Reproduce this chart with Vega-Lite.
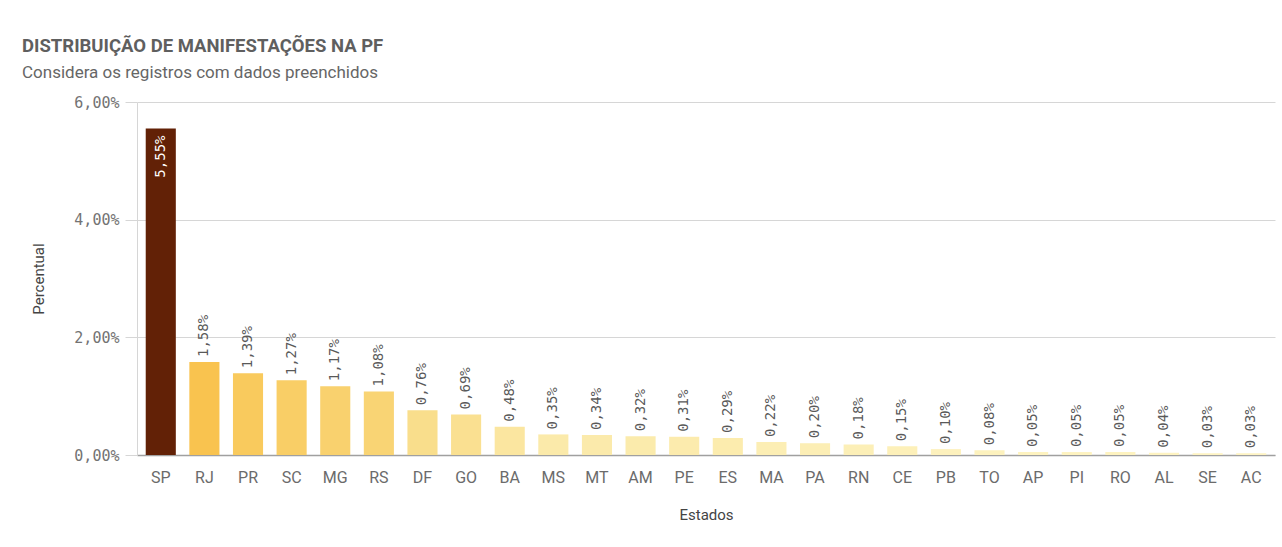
{
  "$schema": "https://vega.github.io/schema/vega-lite/v6.json",
  "autosize": {"type": "none"},
  "width": 1138,
  "height": 353,
  "padding": {"left": 137, "top": 102, "right": 7, "bottom": 92},
  "background": "white",
  "title": {
    "text": "DISTRIBUIÇÃO DE MANIFESTAÇÕES NA PF",
    "subtitle": "Considera os registros com dados preenchidos",
    "anchor": "start",
    "frame": "group",
    "dx": -115,
    "offset": 14,
    "font": "Roboto",
    "fontSize": 18.5,
    "fontWeight": "bold",
    "color": "#5f5f5f",
    "subtitleFont": "Roboto",
    "subtitleFontSize": 17,
    "subtitleColor": "#666666",
    "subtitlePadding": 10
  },
  "data": {
    "values": [
      {"Estado": "SP", "Percentual": 0.0555},
      {"Estado": "RJ", "Percentual": 0.0158},
      {"Estado": "PR", "Percentual": 0.0139},
      {"Estado": "SC", "Percentual": 0.0127},
      {"Estado": "MG", "Percentual": 0.0117},
      {"Estado": "RS", "Percentual": 0.0108},
      {"Estado": "DF", "Percentual": 0.0076},
      {"Estado": "GO", "Percentual": 0.0069},
      {"Estado": "BA", "Percentual": 0.0048},
      {"Estado": "MS", "Percentual": 0.0035},
      {"Estado": "MT", "Percentual": 0.0034},
      {"Estado": "AM", "Percentual": 0.0032},
      {"Estado": "PE", "Percentual": 0.0031},
      {"Estado": "ES", "Percentual": 0.0029},
      {"Estado": "MA", "Percentual": 0.0022},
      {"Estado": "PA", "Percentual": 0.0020},
      {"Estado": "RN", "Percentual": 0.0018},
      {"Estado": "CE", "Percentual": 0.0015},
      {"Estado": "PB", "Percentual": 0.0010},
      {"Estado": "TO", "Percentual": 0.0008},
      {"Estado": "AP", "Percentual": 0.0005},
      {"Estado": "PI", "Percentual": 0.0005},
      {"Estado": "RO", "Percentual": 0.0005},
      {"Estado": "AL", "Percentual": 0.0004},
      {"Estado": "SE", "Percentual": 0.0003},
      {"Estado": "AC", "Percentual": 0.0003}
    ]
  },
  "encoding": {
    "x": {
      "field": "Estado",
      "type": "nominal",
      "sort": null,
      "scale": {"paddingInner": 0.31, "paddingOuter": 0.2},
      "axis": {
        "title": "Estados",
        "labelAngle": 0,
        "ticks": false,
        "tickSize": 0,
        "labelPadding": 14,
        "labelFont": "Roboto",
        "labelFontSize": 16,
        "labelColor": "#6b6b6b",
        "domainColor": "#a0a0a0",
        "domainWidth": 1.5,
        "titleFont": "Roboto",
        "titleFontSize": 15,
        "titleFontWeight": "normal",
        "titleColor": "#444444",
        "titlePadding": 22
      }
    },
    "y": {
      "field": "Percentual",
      "type": "quantitative",
      "scale": {"domain": [0, 0.06], "nice": false},
      "axis": {
        "title": "Percentual",
        "values": [0, 0.02, 0.04, 0.06],
        "format": ".2%",
        "tickSize": 12,
        "tickColor": "#d6d6d6",
        "gridColor": "#d6d6d6",
        "domainColor": "#d6d6d6",
        "labelPadding": 6,
        "labelFont": "DejaVu Sans Mono",
        "labelFontSize": 15,
        "labelColor": "#737373",
        "titleFont": "Roboto",
        "titleFontSize": 15,
        "titleFontWeight": "normal",
        "titleColor": "#444444",
        "titlePadding": 27
      }
    }
  },
  "layer": [
    {
      "mark": {"type": "bar"},
      "encoding": {
        "color": {
          "field": "Percentual",
          "type": "quantitative",
          "scale": {"domain": [0, 0.0158, 0.0555], "range": ["#FEF4C4", "#F9C34F", "#622106"]},
          "legend": null
        }
      }
    },
    {
      "transform": [{"filter": "datum.Estado != 'SP'"}],
      "mark": {"type": "text", "angle": 270, "align": "left", "baseline": "middle", "dx": 5, "font": "DejaVu Sans Mono", "fontSize": 14, "color": "#595959"},
      "encoding": {"text": {"field": "Percentual", "type": "quantitative", "format": ".2%"}}
    },
    {
      "transform": [{"filter": "datum.Estado == 'SP'"}],
      "mark": {"type": "text", "angle": 270, "align": "right", "baseline": "middle", "dx": -7, "font": "DejaVu Sans Mono", "fontSize": 14, "color": "#ffffff"},
      "encoding": {"text": {"field": "Percentual", "type": "quantitative", "format": ".2%"}}
    }
  ],
  "config": {
    "locale": {"number": {"decimal": ",", "thousands": ".", "grouping": [3], "currency": ["R$", ""]}},
    "view": {"stroke": null},
    "axisX": {"grid": false}
  }
}
